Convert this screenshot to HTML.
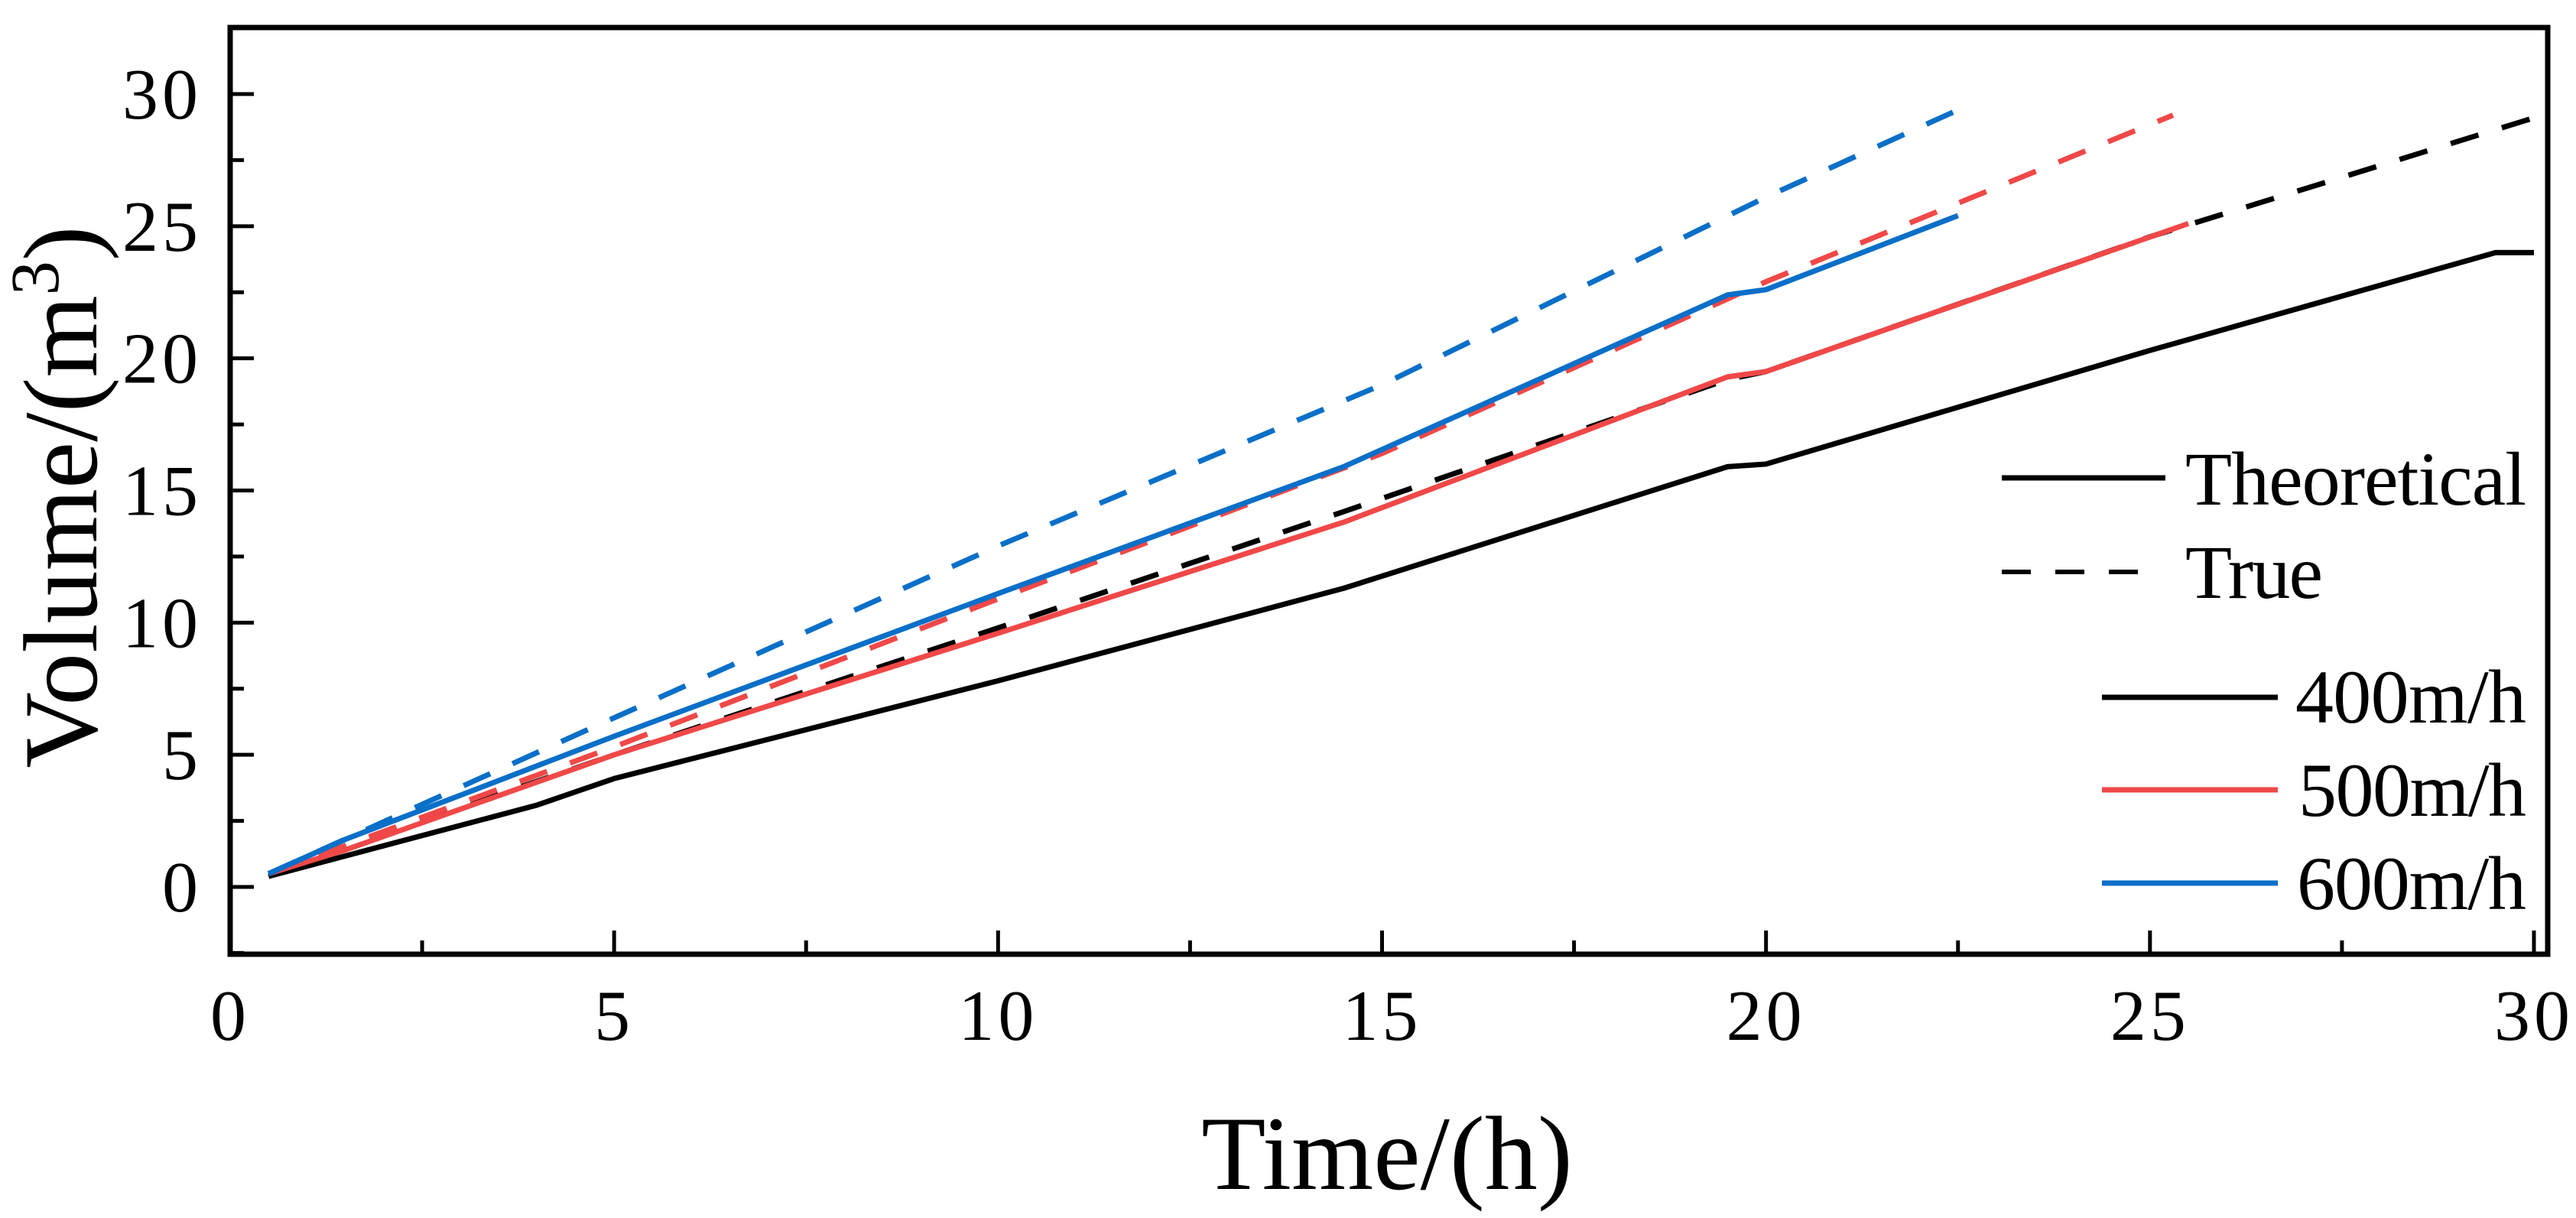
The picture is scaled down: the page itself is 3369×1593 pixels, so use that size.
<!DOCTYPE html>
<html><head><meta charset="utf-8"><style>
html,body{margin:0;padding:0;background:#fff;}
svg{display:block;font-family:"Liberation Serif","Times New Roman",serif;}
</style></head><body>
<svg id="chart" width="3369" height="1593" viewBox="0 0 3369 1593" xmlns="http://www.w3.org/2000/svg">
<g id="lines"></g>
<g id="axes"></g>
<text x="1814" y="1555" font-size="138" text-anchor="middle">Time/(h)</text>
<text transform="translate(126,650) rotate(-90)" font-size="138" text-anchor="middle">Volume/(m<tspan font-size="90" dy="-50">3</tspan><tspan dy="50">)</tspan></text>
<g font-size="100">
<line x1="2618" y1="625" x2="2832" y2="625" stroke="#000" stroke-width="7"/>
<text x="2858" y="660" textLength="446">Theoretical</text>
<line x1="2618" y1="748" x2="2812" y2="748" stroke="#000" stroke-width="6" stroke-dasharray="38 32"/>
<text x="2858" y="782" textLength="180">True</text>
<line x1="2749" y1="912" x2="2979" y2="912" stroke="#000" stroke-width="7"/>
<text x="3002" y="945" textLength="302">400m/h</text>
<line x1="2749" y1="1033" x2="2979" y2="1033" stroke="#f04848" stroke-width="7"/>
<text x="3006" y="1067" textLength="298">500m/h</text>
<line x1="2749" y1="1155" x2="2979" y2="1155" stroke="#0a6fc8" stroke-width="7"/>
<text x="3004" y="1189" textLength="300">600m/h</text>
</g>
</svg>
<script>
const xTicks = [0,5,10,15,20,25,30];
const yTicks = [0,5,10,15,20,25,30];
const t400th = [0.5,4,5,10,14.5,19.5,20,25,29.5,30];
const v400th = [0.4,3.1,4.1,7.8,11.3,15.9,16.0,20.3,24.0,24.0];
const t400tr = [0.5,5,10,14.5,19.5,20,25,30];
const v400tr = [0.5,5.0,9.8,14.2,19.2,19.5,24.6,29.1];
const t500th = [0.5,1.5,5,10,14.5,19.5,20,25.5];
const v500th = [0.5,1.4,5.0,9.6,13.8,19.3,19.5,25.1];
const t500tr = [0.5,5,10,15,20,25.3];
const v500tr = [0.5,5.3,10.9,16.4,22.9,29.2];
const t600th = [0.5,1.5,5,10,14.5,19.5,20,22.5];
const v600th = [0.5,1.8,5.7,11.1,15.9,22.4,22.6,25.4];
const t600tr = [0.5,5,10,15,20,22.5];
const v600tr = [0.5,6.4,12.9,19.0,26.1,29.4];

const NS='http://www.w3.org/2000/svg';
const X0=301,X1=3314,Y0=1160,Y30=123,TOP=36,BOT=1248;
const sx=t=>X0+(t/30)*(X1-X0);
const sy=v=>Y0-(v/30)*(Y0-Y30);
const lines=document.getElementById('lines');
const axes=document.getElementById('axes');
function series(ts,vs,color,dashed,name){
  const p=document.createElementNS(NS,'polyline');
  p.setAttribute('points',ts.map((t,i)=>sx(t)+','+sy(vs[i])).join(' '));
  p.setAttribute('fill','none');p.setAttribute('stroke',color);
  p.setAttribute('stroke-width',7);
  p.setAttribute('stroke-linejoin','round');
  if(dashed)p.setAttribute('stroke-dasharray','38 32');
  
  
  lines.appendChild(p);
}
series(t400tr,v400tr,'#000',true,'series-400-true');
series(t400th,v400th,'#000',false,'series-400-theoretical');
series(t500tr,v500tr,'#f04848',true,'series-500-true');
series(t500th,v500th,'#f04848',false,'series-500-theoretical');
series(t600tr,v600tr,'#0a6fc8',true,'series-600-true');
series(t600th,v600th,'#0a6fc8',false,'series-600-theoretical');

const frame=document.createElementNS(NS,'rect');
frame.setAttribute('x',X0);frame.setAttribute('y',TOP);
frame.setAttribute('width',X1+18-X0);frame.setAttribute('height',BOT-TOP);
frame.setAttribute('fill','none');frame.setAttribute('stroke','#000');frame.setAttribute('stroke-width','7');


axes.appendChild(frame);
function ln(x1,y1,x2,y2,name){
  const l=document.createElementNS(NS,'line');
  l.setAttribute('x1',x1);l.setAttribute('y1',y1);l.setAttribute('x2',x2);l.setAttribute('y2',y2);
  l.setAttribute('stroke','#000');l.setAttribute('stroke-width','5');
  
  
  axes.appendChild(l);
}
function txt(x,y,s,anchor,name){
  const e=document.createElementNS(NS,'text');
  e.setAttribute('x',x);e.setAttribute('y',y);e.setAttribute('font-size','94');
  e.setAttribute('letter-spacing','5');
  e.setAttribute('text-anchor',anchor);e.textContent=s;
  
  
  axes.appendChild(e);
}
yTicks.forEach(v=>{
  ln(X0,sy(v),X0+31,sy(v),'y-tick-major');
  txt(264,sy(v)+32,String(v),'end','y-tick-label');
  if(v<30) ln(X0,sy(v+2.5),X0+18,sy(v+2.5),'y-tick-minor');
});
ln(X0,sy(-2.5),X0+18,sy(-2.5),'y-tick-minor');
xTicks.forEach(t=>{
  ln(sx(t),BOT,sx(t),BOT-31,'x-tick-major');
  txt(sx(t),1360,String(t),'middle','x-tick-label');
  if(t<30) ln(sx(t+2.5),BOT,sx(t+2.5),BOT-18,'x-tick-minor');
});
</script>
</body></html>
